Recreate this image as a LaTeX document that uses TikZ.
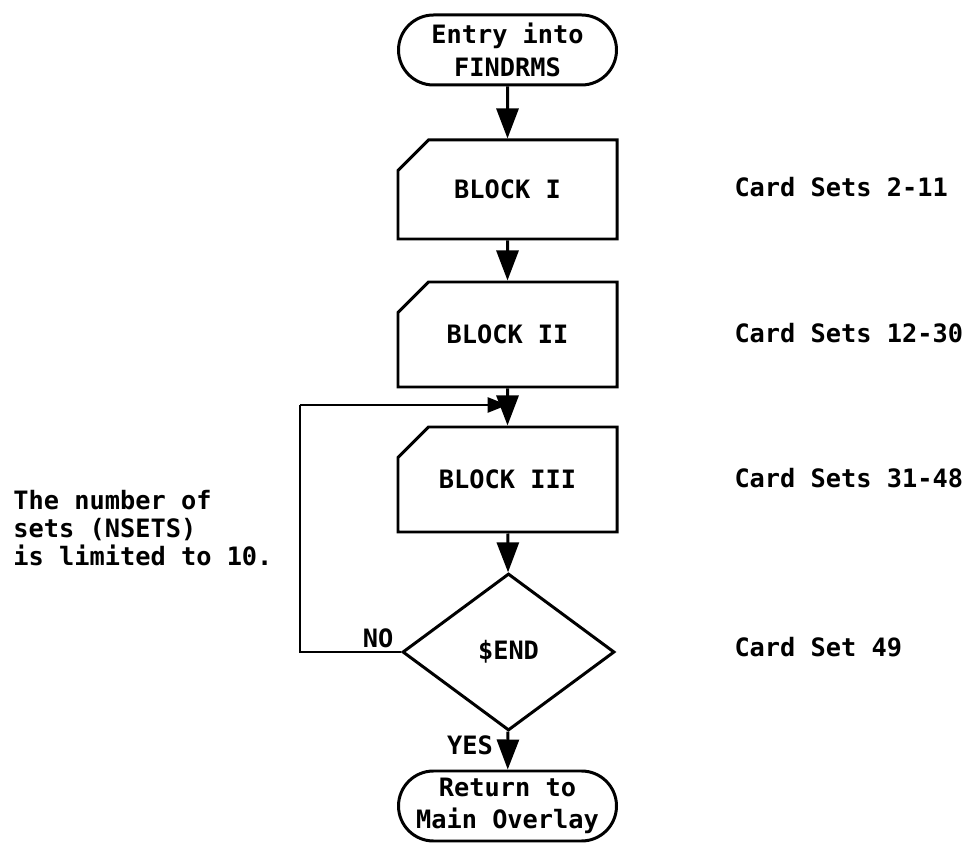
\documentclass[tikz,border=0pt]{standalone}
\usepackage{fontspec}
\setmainfont{DejaVu Sans Mono}
\usepackage{tikz}
\usetikzlibrary{calc, shapes, shapes.misc, shapes.geometric, arrows.meta}

\begin{document}
\begin{tikzpicture}[line width=1.7pt]
\tikzstyle{line} = [draw, -{Triangle[length=0.6cm,width=0.44cm]}]
\tikzstyle{loopline} = [draw, line width=1.7pt, -{Triangle[length=0.4cm,width=0.3cm]}]
\tikzstyle{card}=[chamfered rectangle, chamfered rectangle corners=north west, chamfered rectangle sep=0.42cm, draw, minimum width=4.38cm, minimum height=2.1cm, inner sep=0pt, font=\bfseries\fontsize{14.4}{17}\selectfont]
\tikzstyle{term}=[rounded rectangle, draw, minimum width=4.36cm, minimum height=1.4cm, inner sep=0pt, align=center, font=\bfseries\fontsize{14.4}{18.5}\selectfont]
\tikzstyle{test}=[diamond, draw, minimum width=4.24cm, minimum height=3.14cm, inner sep=0pt, font=\bfseries\fontsize{14.4}{17}\selectfont]
\tikzstyle{note}=[anchor=west, inner sep=0pt, align=left, font=\bfseries\fontsize{14.4}{16}\selectfont]
\useasboundingbox (0,0) rectangle (19.34,-16.9);
\node[term] (entry) at (10.15,-1.0) {Entry into\\FINDRMS};
\node[card, minimum height=1.98cm] (blk1) at (10.15,-3.79) {BLOCK I};
\node[card] (blk2) at (10.15,-6.69) {BLOCK II};
\node[card] (blk3) at (10.15,-9.59) {BLOCK III};
\node[test] (dec) at (10.17,-13.04) {\$END};
\node[term] (ret) at (10.15,-16.12) {Return to\\Main Overlay};
\node[note] (c1) at (14.66,-3.74) {Card Sets 2-11};
\node[note] (c2) at (14.66,-6.66) {Card Sets 12-30};
\node[note] (c3) at (14.66,-9.56) {Card Sets 31-48};
\node[note] (c4) at (14.66,-12.94) {Card Set 49};
\node[note] (lim) at (0.24,-10.56) {The number of\\sets (NSETS)\\is limited to 10.};
\node[note, anchor=center] (no) at (7.56,-12.76) {NO};
\node[note, anchor=center] (yes) at (9.4,-14.9) {YES};
\coordinate (loopL) at (6.0,-13.04);
\coordinate (loopT) at (6.0,-8.1);
\coordinate (join) at (10.15,-8.1);
\path [line] (entry) -- (blk1);
\path [line] (blk1) -- (blk2);
\path [line] (blk2) -- (blk3);
\path [line] (blk3) -- (dec);
\path [line] (dec) -- (ret);
\draw (dec.west) -- (loopL) -- (loopT);
\path [loopline] (loopT) -- (join);

\end{tikzpicture}
\end{document}
